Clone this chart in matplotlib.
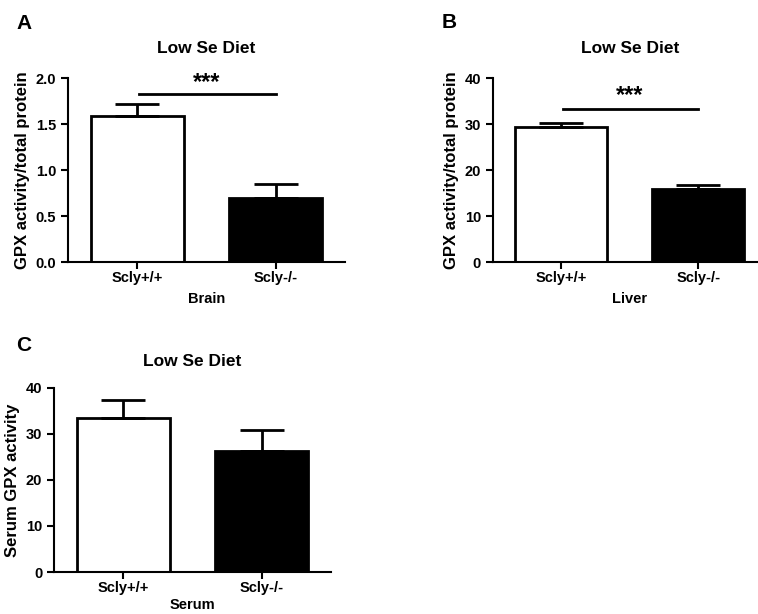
import matplotlib
matplotlib.use('Agg')
import matplotlib.pyplot as plt

plt.rcParams['font.family'] = ['Liberation Sans', 'DejaVu Sans']
plt.rcParams['font.weight'] = 'bold'

groups = ['Scly+/+', 'Scly-/-']

# Brain
brain_mean = [1.59, 0.70]
brain_err = [0.13, 0.15]
# Liver
liver_mean = [29.3, 15.9]
liver_err = [0.9, 0.8]
# Serum
serum_mean = [33.4, 26.2]
serum_err = [4.0, 4.7]


def draw_panel(ax, means, errs, ylabel, xlabel, ymax, ystep, yfmt, xpad=5):
    ax.bar([0, 1], means, width=0.67, color=['white', 'black'],
           edgecolor='black', linewidth=2)
    ax.errorbar([0, 1], means, yerr=[[0, 0], errs], fmt='none',
                ecolor='black', elinewidth=2, capsize=16, capthick=2)
    ax.set_xlim(-0.5, 1.5)
    ax.set_ylim(0, ymax)
    ticks = [i * ystep for i in range(int(round(ymax / ystep)) + 1)]
    ax.set_yticks(ticks)
    ax.set_yticklabels([yfmt.format(t) for t in ticks])
    ax.set_xticks([0, 1])
    ax.set_xticklabels(groups)
    for s in ['top', 'right']:
        ax.spines[s].set_visible(False)
    for s in ['left', 'bottom']:
        ax.spines[s].set_linewidth(1.5)
    ax.tick_params(direction='out', length=5, width=1.5, labelsize=10.5)
    ax.tick_params(axis='x', pad=1.5)
    for lab in ax.get_xticklabels() + ax.get_yticklabels():
        lab.set_fontweight('bold')
    ax.set_ylabel(ylabel, fontsize=12, fontweight='bold', labelpad=4)
    ax.set_xlabel(xlabel, fontsize=10.5, fontweight='bold', labelpad=xpad)
    ax.set_title('Low Se Diet', fontsize=12.5, fontweight='bold', pad=18)


fig = plt.figure(figsize=(7.58, 6.14), dpi=100)

axA = fig.add_axes([0.0897, 0.573, 0.3655, 0.2997])
draw_panel(axA, brain_mean, brain_err, 'GPX activity/total protein', 'Brain', 2.0, 0.5, '{:.1f}')
axA.plot([0.01, 1.0], [1.83, 1.83], color='black', lw=2)
axA.text(0.5, 1.95, '***', ha='center', va='center', fontsize=17, fontweight='bold')

axB = fig.add_axes([0.650, 0.573, 0.3615, 0.2997])
draw_panel(axB, liver_mean, liver_err, 'GPX activity/total protein', 'Liver', 40, 10, '{:.0f}')
axB.plot([0.01, 1.0], [33.2, 33.2], color='black', lw=2)
axB.text(0.5, 36.3, '***', ha='center', va='center', fontsize=17, fontweight='bold')

axC = fig.add_axes([0.0712, 0.0684, 0.3655, 0.2997])
draw_panel(axC, serum_mean, serum_err, 'Serum GPX activity', 'Serum', 40, 10, '{:.0f}', xpad=2)
axC.set_title('Low Se Diet', fontsize=12.5, fontweight='bold', pad=16)

fig.text(0.022, 0.962, 'A', fontsize=15, fontweight='bold', ha='left', va='center')
fig.text(0.583, 0.964, 'B', fontsize=15, fontweight='bold', ha='left', va='center')
fig.text(0.021, 0.438, 'C', fontsize=15, fontweight='bold', ha='left', va='center')

fig.savefig('out.png', dpi=100)
